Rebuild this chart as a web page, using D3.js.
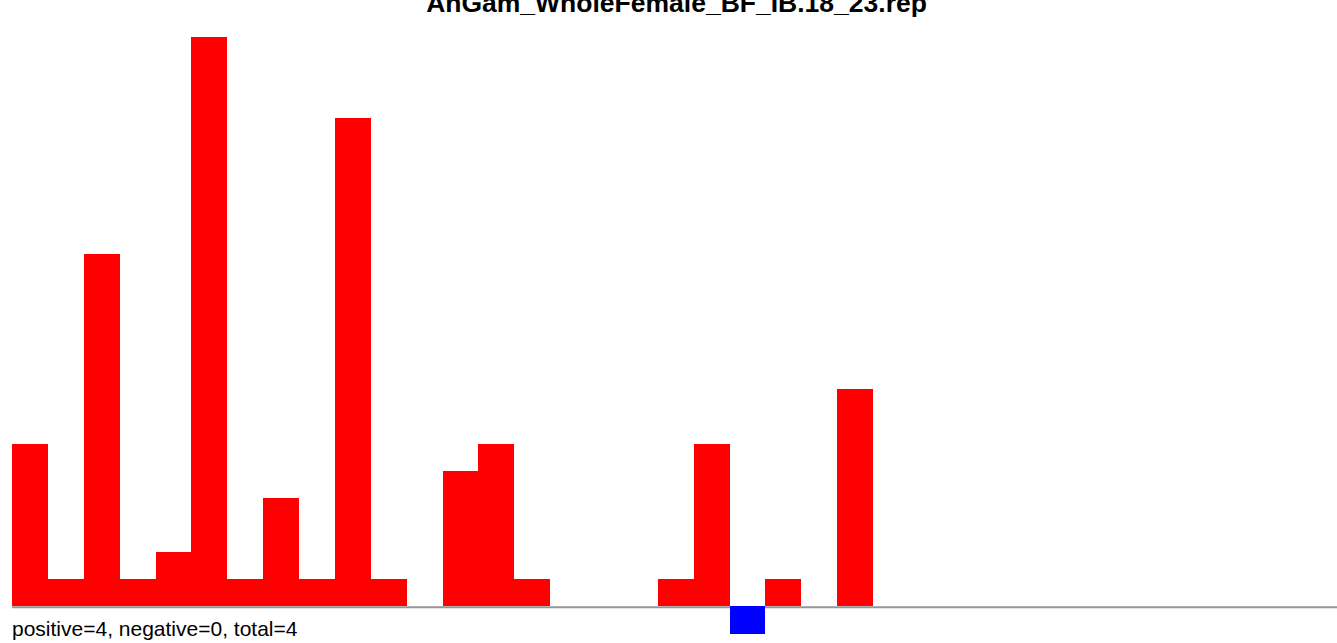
<!DOCTYPE html>
<html>
<head>
<meta charset="utf-8">
<script src="https://cdn.jsdelivr.net/npm/d3@7"></script>
<style>
  html, body { margin: 0; padding: 0; background: #fff; overflow: hidden; }
  svg { display: block; }
</style>
</head>
<body>
<svg id="chart" width="1337" height="643"></svg>
<script>
// ---- data ----
const titleText = "AnGam_WholeFemale_BF_IB.18_23.rep";
const summaryText = "positive=4, negative=0, total=4";
const bins = d3.range(37);
const values = [6, 1, 13, 1, 2, 21, 1, 4, 1, 18, 1, 0, 5, 6, 1, 0, 0, 0, 1, 6, -1, 1, 0, 8,
                0, 0, 0, 0, 0, 0, 0, 0, 0, 0, 0, 0, 0];

// ---- layout ----
const W = 1337, H = 643;
const left = 12, right = 1339.4;
const svg = d3.select("#chart");

const x = d3.scaleBand().domain(bins).range([left, right]).padding(0);
const y = d3.scaleLinear().domain([-1, 21]).range([633.6, 36.7]);

// baseline
svg.append("line")
  .attr("x1", left).attr("x2", W)
  .attr("y1", y(0) + 0.8).attr("y2", y(0) + 0.8)
  .attr("stroke", "#969696").attr("stroke-width", 1.8);

// bars
svg.append("g").selectAll("rect")
  .data(bins.filter(i => values[i] !== 0))
  .join("rect")
  .attr("x", i => x(i))
  .attr("width", x.bandwidth())
  .attr("y", i => values[i] > 0 ? y(values[i]) : y(0))
  .attr("height", i => Math.abs(y(values[i]) - y(0)))
  .attr("fill", i => values[i] > 0 ? "#ff0000" : "#0000ff")
  .attr("shape-rendering", "crispEdges");

// title
svg.append("text")
  .attr("x", 676.5).attr("y", 12)
  .attr("text-anchor", "middle")
  .attr("font-family", "Liberation Sans, Arial, sans-serif")
  .attr("font-weight", "bold")
  .attr("font-size", "26.5px")
  .attr("fill", "#000")
  .text(titleText);

// summary
svg.append("text")
  .attr("x", 12).attr("y", 635.6)
  .attr("font-family", "Liberation Sans, Arial, sans-serif")
  .attr("font-size", "21px")
  .attr("fill", "#000")
  .text(summaryText);
</script>
</body>
</html>
